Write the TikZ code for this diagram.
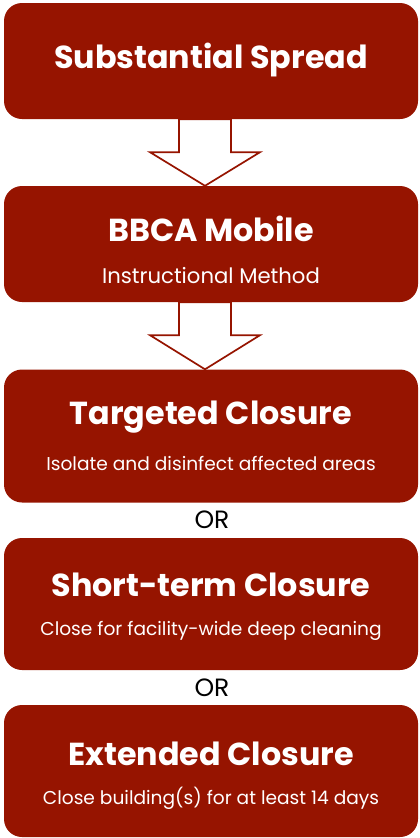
\documentclass[tikz,border=0pt]{standalone}
\usepackage{fontspec}
\setmainfont{Poppins}
\usetikzlibrary{calc}
\definecolor{brick}{RGB}{150,20,0}
\tikzset{
  box/.style={rectangle, rounded corners=18pt, fill=brick, draw=none, minimum width=414pt, inner sep=0pt},
  title/.style={text=white, font=\bfseries\fontsize{31.8}{36}\selectfont, inner sep=0pt},
  sub/.style={text=white, font=\fontsize{18.6}{22}\selectfont, inner sep=0pt},
  bigsub/.style={sub, font=\fontsize{21.2}{25}\selectfont},
  ortext/.style={text=black, font=\fontsize{25}{30}\selectfont, inner sep=0pt},
  bigarrow/.style={draw=brick, line width=1.7pt, fill=white, line join=miter}
}
\begin{document}
\begin{tikzpicture}[x=1pt,y=-1pt]
\useasboundingbox (0,0) rectangle (420,838);
\node[box, minimum height=116pt] (b1) at (211,61) {};
\node[box, minimum height=116pt] (b2) at (211,244) {};
\node[box, minimum height=133pt] (b3) at (211,436) {};
\node[box, minimum height=132pt] (b4) at (211,604) {};
\node[box, minimum height=132pt] (b5) at (211,771) {};

\node[title] (t1) at (211,60) {Substantial Spread};
\node[title] (t2) at (211,229) {BBCA Mobile};
\node[bigsub] (s2) at (211,276) {Instructional Method};
\node[title] (t3) at (211,417) {Targeted Closure};
\node[sub] (s3) at (211,463) {Isolate and disinfect affected areas};
\node[title] (t4) at (211,585) {Short-term Closure};
\node[sub] (s4) at (211,631) {Close for facility-wide deep cleaning};
\node[title] (t5) at (211,754) {Extended Closure};
\node[sub] (s5) at (211,798) {Close building(s) for at least 14 days};

\node[ortext] (or1) at (212,520) {OR};
\node[ortext] (or2) at (212,688) {OR};

\draw[bigarrow] ($(b1.south)+(-32,0)$) -- ($(b1.south)+(20,0)$) -- ($(b1.south)+(20,33)$)
  -- ($(b1.south)+(49,33)$) -- ($(b2.north)+(-6,0)$) -- ($(b1.south)+(-61,33)$) -- ($(b1.south)+(-32,33)$) -- cycle;
\draw[bigarrow] ($(b2.south)+(-32,0)$) -- ($(b2.south)+(20,0)$) -- ($(b2.south)+(20,33)$)
  -- ($(b2.south)+(49,33)$) -- ($(b3.north)+(-6,0)$) -- ($(b2.south)+(-61,33)$) -- ($(b2.south)+(-32,33)$) -- cycle;
\end{tikzpicture}
\end{document}
